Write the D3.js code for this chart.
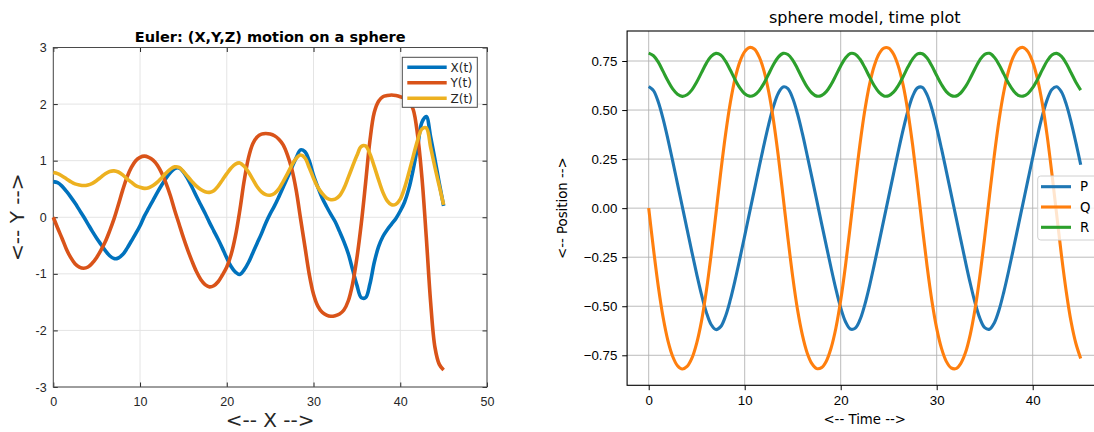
<!DOCTYPE html>
<html><head><meta charset="utf-8">
<script src="https://cdn.jsdelivr.net/npm/d3@7"></script>
<style>html,body{margin:0;padding:0;background:#fff;overflow:hidden}svg{display:block}</style>
</head><body>
<script>
// ---------- data ----------
const tStep = 0.5; // sample spacing of both series sets (time 0..45)
const seriesX = [0.63,0.61,0.55,0.46,0.36,0.25,0.13,0.01,-0.12,-0.25,
 -0.37,-0.48,-0.59,-0.68,-0.73,-0.72,-0.66,-0.55,-0.42,-0.29,
 -0.15,0.02,0.16,0.30,0.44,0.57,0.69,0.79,0.86,0.87,
 0.80,0.68,0.53,0.37,0.22,0.07,-0.09,-0.24,-0.39,-0.55,
 -0.72,-0.87,-0.97,-1.01,-0.93,-0.80,-0.63,-0.46,-0.29,-0.10,
 0.06,0.20,0.36,0.53,0.70,0.88,1.05,1.19,1.16,1.00,
 0.74,0.53,0.34,0.19,0.05,-0.08,-0.25,-0.43,-0.64,-0.92,
 -1.20,-1.42,-1.42,-1.18,-0.80,-0.52,-0.34,-0.22,-0.12,-0.02,
 0.11,0.27,0.51,0.85,1.25,1.68,1.78,1.42,1.02,0.60,
 0.20];
const seriesY = [0,-0.19,-0.37,-0.56,-0.71,-0.82,-0.88,-0.90,-0.88,-0.81,
 -0.71,-0.58,-0.43,-0.24,-0.03,0.22,0.48,0.71,0.88,1.00,
 1.06,1.08,1.06,1.01,0.92,0.78,0.60,0.38,0.12,-0.12,
 -0.36,-0.58,-0.78,-0.96,-1.10,-1.19,-1.23,-1.21,-1.14,-1.02,
 -0.88,-0.66,-0.33,0.12,0.64,1.05,1.30,1.42,1.47,1.48,
 1.47,1.44,1.38,1.28,1.10,0.85,0.48,-0.02,-0.51,-1.00,
 -1.36,-1.57,-1.68,-1.73,-1.75,-1.74,-1.71,-1.64,-1.48,-1.18,
 -0.72,-0.12,0.60,1.35,1.85,2.05,2.13,2.15,2.16,2.15,
 2.13,2.10,2.05,1.90,1.45,0.70,-0.35,-1.50,-2.30,-2.60,
 -2.70];
const seriesZ = [0.79,0.77,0.73,0.68,0.63,0.59,0.57,0.56,0.57,0.60,
 0.65,0.71,0.77,0.81,0.82,0.80,0.75,0.68,0.62,0.56,
 0.53,0.51,0.52,0.56,0.62,0.70,0.78,0.85,0.89,0.88,
 0.81,0.72,0.63,0.55,0.49,0.45,0.44,0.47,0.55,0.66,
 0.77,0.87,0.94,0.96,0.90,0.80,0.67,0.54,0.45,0.40,
 0.39,0.42,0.50,0.63,0.77,0.92,1.04,1.10,1.05,0.88,
 0.69,0.53,0.42,0.34,0.31,0.32,0.38,0.51,0.70,0.90,
 1.09,1.25,1.26,1.12,0.90,0.66,0.44,0.29,0.22,0.23,
 0.32,0.52,0.79,1.08,1.36,1.56,1.58,1.24,0.88,0.55,
 0.22];
const seriesP = [.620,.599,.541,.455,.352,.240,.124,.008,-.108,-.224,
 -.336,-.441,-.530,-.593,-.619,-.604,-.551,-.468,-.367,-.256,
 -.141,-.024,.092,.208,.321,.427,.519,.586,.618,.609,
 .560,.481,.382,.271,.157,.041,-.076,-.191,-.305,-.413,
 -.508,-.579,-.616,-.612,-.570,-.494,-.397,-.287,-.173,-.057,
 .059,.175,.290,.399,.495,.571,.613,.616,.577,.506,
 .411,.303,.189,.073,-.043,-.159,-.274,-.384,-.483,-.562,
 -.609,-.617,-.585,-.518,-.425,-.319,-.205,-.089,.027,.143,
 .258,.369,.470,.552,.605,.619,.592,.529,.439,.334,
 .221];
const seriesQ = [0,-.209,-.399,-.556,-.675,-.756,-.803,-.820,-.807,-.765,
 -.688,-.576,-.423,-.238,-.030,.181,.374,.537,.661,.747,
 .798,.819,.811,.772,.701,.593,.447,.265,.059,-.152,
 -.349,-.517,-.645,-.737,-.793,-.818,-.813,-.780,-.713,-.611,
 -.470,-.292,-.089,.123,.323,.495,.630,.726,.787,.816,
 .816,.786,.724,.628,.492,.319,.118,-.094,-.296,-.473,
 -.613,-.715,-.781,-.814,-.818,-.792,-.736,-.643,-.513,-.345,
 -.148,.064,.269,.451,.596,.703,.773,.811,.819,.798,
 .745,.658,.534,.371,.176,-.034,-.242,-.427,-.579,-.690,
 -.766];
const seriesR = [.790,.777,.744,.697,.649,.608,.581,.570,.578,.603,
 .643,.691,.738,.774,.789,.781,.749,.704,.655,.613,
 .583,.571,.576,.599,.636,.684,.732,.770,.789,.783,
 .755,.711,.662,.618,.587,.571,.574,.594,.630,.677,
 .725,.765,.788,.785,.760,.718,.669,.624,.590,.572,
 .573,.591,.625,.670,.719,.761,.786,.787,.765,.724,
 .676,.630,.594,.574,.571,.587,.619,.663,.712,.756,
 .784,.789,.769,.731,.683,.635,.598,.575,.571,.584,
 .614,.656,.705,.750,.781,.789,.774,.737,.690,.642,
 .602];
const leftXTicks = [0,10,20,30,40,50];
const leftYTicks = [-3,-2,-1,0,1,2,3];
const rightXTicks = [0,10,20,30,40];
const rightYTicks = [-0.75,-0.5,-0.25,0,0.25,0.5,0.75];
const leftNames = ["X(t)","Y(t)","Z(t)"];
const rightNames = ["P","Q","R"];
const leftColors = ["#0072BD","#D95319","#EDB120"];
const rightColors = ["#1f77b4","#ff7f0e","#2ca02c"];

// ---------- drawing ----------
const W = 1094, H = 432;
const svg = d3.select("body").append("svg").attr("width", W).attr("height", H)
  .style("font-family", "'DejaVu Sans', sans-serif");

const timeAt = i => i * tStep;

// ===== Left (MATLAB-style) =====
const xL = d3.scaleLinear().domain([0, 50]).range([53.3, 487]);
const yL = d3.scaleLinear().domain([-3, 3]).range([387, 47.5]);
const gL = svg.append("g");
gL.append("g").selectAll("line").data(leftXTicks).join("line")
  .attr("x1", d => xL(d)).attr("x2", d => xL(d)).attr("y1", yL(-3)).attr("y2", yL(3))
  .attr("stroke", "#e4e4e4").attr("stroke-width", 1);
gL.append("g").selectAll("line").data(leftYTicks).join("line")
  .attr("y1", d => yL(d)).attr("y2", d => yL(d)).attr("x1", xL(0)).attr("x2", xL(50))
  .attr("stroke", "#e4e4e4").attr("stroke-width", 1);

function styleAxis(g, color, size) {
  g.select(".domain").remove();
  g.selectAll(".tick line").attr("stroke", color);
  g.selectAll(".tick text").attr("fill", color).style("font-size", size + "px");
}
const axC = "#262626";
const intFmt = d => String(d);
gL.append("g").attr("transform", `translate(0,${yL(-3)})`)
  .call(d3.axisBottom(xL).tickValues(leftXTicks).tickSize(-4.5).tickPadding(10.5).tickFormat(intFmt))
  .call(g => styleAxis(g, axC, 12.5));
gL.append("g").attr("transform", `translate(0,${yL(3)})`)
  .call(d3.axisTop(xL).tickValues(leftXTicks).tickSize(-4.5).tickFormat(""))
  .call(g => styleAxis(g, axC, 12));
gL.append("g").attr("transform", `translate(${xL(0)},0)`)
  .call(d3.axisLeft(yL).tickValues(leftYTicks).tickSize(-4.5).tickPadding(6.6).tickFormat(intFmt))
  .call(g => styleAxis(g, axC, 12.5));
gL.append("g").attr("transform", `translate(${xL(50)},0)`)
  .call(d3.axisRight(yL).tickValues(leftYTicks).tickSize(-4.5).tickFormat(""))
  .call(g => styleAxis(g, axC, 12));
gL.append("rect").attr("x", xL(0)).attr("y", yL(3)).attr("width", xL(50) - xL(0))
  .attr("height", yL(-3) - yL(3)).attr("fill", "none").attr("stroke", "#4a4a4a").attr("stroke-width", 1);

const lineL = d3.line().x((d, i) => xL(timeAt(i))).y(d => yL(d)).curve(d3.curveCatmullRom.alpha(0.5));
[seriesX, seriesY, seriesZ].forEach((s, k) => {
  gL.append("path").attr("d", lineL(s)).attr("fill", "none")
    .attr("stroke", leftColors[k]).attr("stroke-width", 3.6).attr("stroke-linejoin", "round");
});

gL.append("text").attr("x", (xL(0) + xL(50)) / 2).attr("y", 41.5).attr("text-anchor", "middle")
  .attr("font-weight", "bold").style("font-size", "14.5px").attr("fill", "#000")
  .text("Euler: (X,Y,Z) motion on a sphere");
gL.append("text").attr("x", (xL(0) + xL(50)) / 2).attr("y", 427).attr("text-anchor", "middle")
  .style("font-size", "20px").attr("fill", axC).text("<-- X -->");
gL.append("text").attr("transform", `translate(24,${(yL(-3) + yL(3)) / 2}) rotate(-90)`)
  .attr("text-anchor", "middle").style("font-size", "20px").attr("fill", axC).text("<-- Y -->");

const lgL = gL.append("g");
lgL.append("rect").attr("x", 402.3).attr("y", 57.3).attr("width", 75).attr("height", 50)
  .attr("fill", "#fff").attr("stroke", "#4a4a4a").attr("stroke-width", 1);
leftNames.forEach((n, k) => {
  const yy = 67.3 + k * 15.5;
  lgL.append("line").attr("x1", 407.3).attr("x2", 446.7).attr("y1", yy).attr("y2", yy)
    .attr("stroke", leftColors[k]).attr("stroke-width", 3.6);
  lgL.append("text").attr("x", 450.5).attr("y", yy).attr("dy", "0.36em")
    .style("font-size", "12px").attr("fill", axC).text(n);
});

// ===== Right (matplotlib-style) =====
const xR = d3.scaleLinear().domain([-2.25, 47.25]).range([627.1, 1102.3]);
const yR = d3.scaleLinear().domain([-0.903, 0.903]).range([385.3, 31]);
const gR = svg.append("g");
gR.append("g").selectAll("line").data(rightXTicks).join("line")
  .attr("x1", d => xR(d)).attr("x2", d => xR(d)).attr("y1", yR.range()[0]).attr("y2", yR.range()[1])
  .attr("stroke", "#b0b0b0").attr("stroke-width", 1).attr("stroke-opacity", 0.85);
gR.append("g").selectAll("line").data(rightYTicks).join("line")
  .attr("y1", d => yR(d)).attr("y2", d => yR(d)).attr("x1", xR.range()[0]).attr("x2", xR.range()[1])
  .attr("stroke", "#b0b0b0").attr("stroke-width", 1).attr("stroke-opacity", 0.85);

const lineR = d3.line().x((d, i) => xR(timeAt(i))).y(d => yR(d)).curve(d3.curveCatmullRom.alpha(0.5));
[seriesP, seriesQ, seriesR].forEach((s, k) => {
  gR.append("path").attr("d", lineR(s)).attr("fill", "none")
    .attr("stroke", rightColors[k]).attr("stroke-width", 3.1).attr("stroke-linejoin", "round");
});

gR.append("g").attr("transform", `translate(0,${yR.range()[0]})`)
  .call(d3.axisBottom(xR).tickValues(rightXTicks).tickSize(4.9).tickPadding(5.5))
  .call(g => styleAxis(g, "#000", 13.3));
gR.append("g").attr("transform", `translate(${xR.range()[0]},0)`)
  .call(d3.axisLeft(yR).tickValues(rightYTicks).tickSize(4.9).tickPadding(4.9).tickFormat(d3.format(".2f")))
  .call(g => styleAxis(g, "#000", 13.3));
gR.append("rect").attr("x", xR.range()[0]).attr("y", yR.range()[1])
  .attr("width", xR.range()[1] - xR.range()[0]).attr("height", yR.range()[0] - yR.range()[1])
  .attr("fill", "none").attr("stroke", "#000").attr("stroke-width", 1.1);

gR.append("text").attr("x", (xR.range()[0] + xR.range()[1]) / 2).attr("y", 23)
  .attr("text-anchor", "middle").style("font-size", "16px").attr("fill", "#000")
  .text("sphere model, time plot");
gR.append("text").attr("x", (xR.range()[0] + xR.range()[1]) / 2).attr("y", 423.5)
  .attr("text-anchor", "middle").style("font-size", "13.3px").attr("fill", "#000").text("<-- Time -->");
gR.append("text").attr("transform", `translate(567,${(yR.range()[0] + yR.range()[1]) / 2}) rotate(-90)`)
  .attr("text-anchor", "middle").style("font-size", "13.3px").attr("fill", "#000").text("<-- Position -->");

const lgR = gR.append("g");
lgR.append("rect").attr("x", 1037.7).attr("y", 176).attr("width", 60).attr("height", 64).attr("rx", 3)
  .attr("fill", "#fff").attr("fill-opacity", 0.8).attr("stroke", "#d0d0d0").attr("stroke-width", 1);
rightNames.forEach((n, k) => {
  const yy = 186.7 + k * 20.3;
  lgR.append("line").attr("x1", 1041).attr("x2", 1071).attr("y1", yy).attr("y2", yy)
    .attr("stroke", rightColors[k]).attr("stroke-width", 3.1);
  lgR.append("text").attr("x", 1080).attr("y", yy).attr("dy", "0.36em")
    .style("font-size", "13.3px").attr("fill", "#000").text(n);
});
</script>
</body></html>
